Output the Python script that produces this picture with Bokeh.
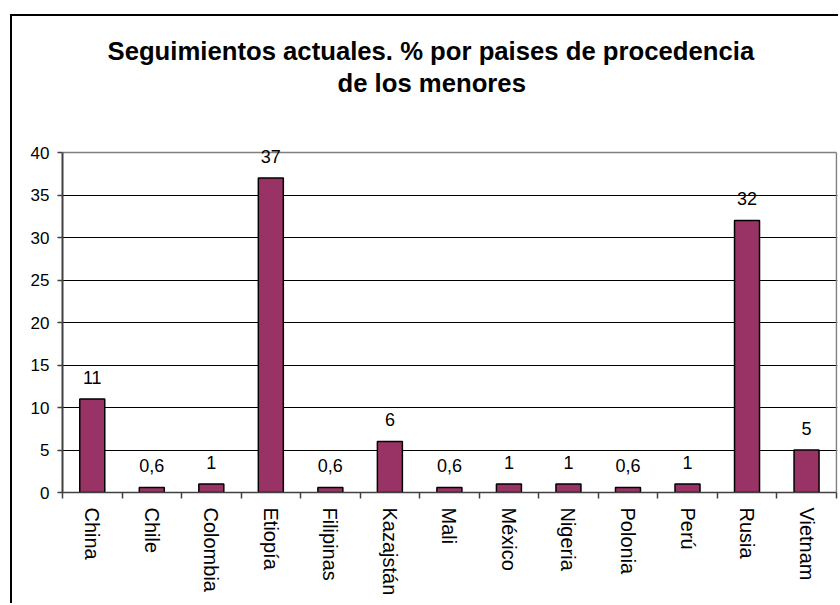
import math
from bokeh.plotting import figure
from bokeh.models import (ColumnDataSource, Label, Range1d, FixedTicker, Title, Grid)
from bokeh.embed import file_html
from bokeh.resources import INLINE

countries = ["China", "Chile", "Colombia", "Etiopía", "Filipinas", "Kazajstán",
             "Mali", "México", "Nigeria", "Polonia", "Perú", "Rusia", "Vietnam"]
values = [11, 0.6, 1, 37, 0.6, 6, 0.6, 1, 1, 0.6, 1, 32, 5]
y_ticks = [0, 5, 10, 15, 20, 25, 30, 35, 40]
title_lines = ["Seguimientos actuales. % por paises de procedencia", "de los menores"]

FONT = "Liberation Sans"
BAR = "#993366"
FRAME = "#808080"

idx = list(range(len(countries)))
labels = [(str(int(v)) if float(v).is_integer() else str(v).replace(".", ",")) for v in values]
src = ColumnDataSource(dict(x=idx, top=values, label=labels))

y_top = y_ticks[-1]
x_end = len(countries) - 0.5

# the frame is slightly taller/wider than the plot area so value labels are not clipped;
# the plot-area border is drawn with grids at y=40 and x=12.5
p = figure(width=828, height=589, output_backend="svg", toolbar_location=None,
           x_range=Range1d(-0.5, x_end + 0.02), y_range=Range1d(0, y_top + 2),
           min_border_left=50, min_border_right=3, min_border_top=119,
           min_border_bottom=113)
p.styles = {"margin-left": "10px", "margin-top": "14px",
            "border-left": "2px solid black", "border-top": "2px solid black"}
p.background_fill_color = "white"
p.border_fill_color = "white"
p.outline_line_color = None
p.title = None

# titles stack upward from the frame: spacer, line 2, line 1
p.add_layout(Title(text=" ", text_font=FONT, text_font_size="10px", standoff=25), "above")
p.add_layout(Title(text=title_lines[1], align="left", offset=275, text_font=FONT,
                   text_font_size="25.7px", text_font_style="bold",
                   text_color="black", standoff=1), "above")
p.add_layout(Title(text=title_lines[0], align="left", offset=45, text_font=FONT,
                   text_font_size="25.7px", text_font_style="bold",
                   text_color="black", standoff=3), "above")

p.vbar(x="x", top="top", width=0.42, source=src, fill_color=BAR,
       line_color="black", line_width=1.5)

for xi, yi, txt in zip(idx, values, labels):
    p.add_layout(Label(x=xi, y=yi, text=txt, text_align="center",
                       text_baseline="alphabetic", y_offset=22, text_font=FONT,
                       text_font_size="18px", text_color="black"))

# x axis
xa = p.xaxis[0]
xa.ticker = FixedTicker(ticks=idx, minor_ticks=[i - 0.5 for i in range(len(countries) + 1)])
xa.bounds = (-0.5, x_end)
xa.major_label_overrides = {i: c for i, c in enumerate(countries)}
xa.major_label_orientation = -math.pi / 2
xa.major_tick_line_color = None
xa.major_tick_out = 0
xa.major_tick_in = 0
xa.minor_tick_out = 6
xa.minor_tick_in = 0
xa.minor_tick_line_color = "#404040"
xa.minor_tick_line_width = 1.5
xa.axis_line_color = "#404040"
xa.axis_line_width = 1.5
xa.major_label_standoff = 9
xa.major_label_text_font = FONT
xa.major_label_text_font_size = "20px"
xa.major_label_text_color = "black"

# y axis
ya = p.yaxis[0]
ya.ticker = FixedTicker(ticks=y_ticks, minor_ticks=[])
ya.bounds = (0, y_top)
ya.major_tick_out = 5
ya.major_tick_in = 0
ya.major_tick_line_color = "#404040"
ya.major_tick_line_width = 1.5
ya.axis_line_color = "#404040"
ya.axis_line_width = 2
ya.major_label_standoff = 8
ya.major_label_text_font = FONT
ya.major_label_text_font_size = "17px"
ya.major_label_text_color = "black"

p.xgrid.grid_line_color = None
p.ygrid.ticker = FixedTicker(ticks=y_ticks[1:-1])
p.ygrid.grid_line_color = "black"
p.ygrid.grid_line_width = 1
p.ygrid.bounds = (0, y_top)

# plot-area border (top and right)
p.add_layout(Grid(dimension=1, ticker=FixedTicker(ticks=[y_top]), bounds=(0, y_top),
                  cross_bounds=(-0.5, x_end),
                  grid_line_color=FRAME, grid_line_width=1.5))
p.add_layout(Grid(dimension=0, ticker=FixedTicker(ticks=[x_end]), bounds=(-0.5, x_end),
                  cross_bounds=(0, y_top),
                  grid_line_color=FRAME, grid_line_width=1.5))

open("out.html", "w").write(file_html(p, INLINE))
